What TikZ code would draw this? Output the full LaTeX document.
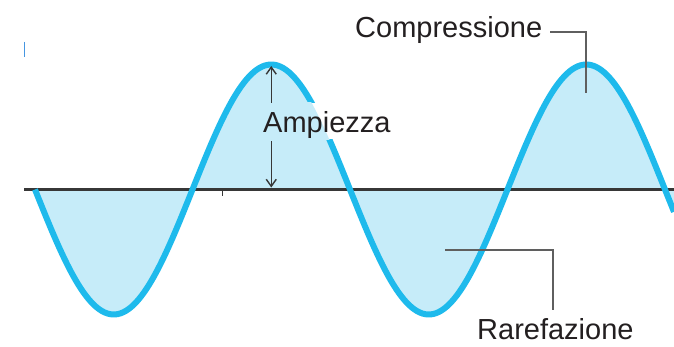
\documentclass[tikz,border=0pt]{standalone}
\usepackage{fontspec}
\setmainfont{Liberation Sans}
\usetikzlibrary{arrows.meta}
\definecolor{wavestroke}{RGB}{30,186,236}
\definecolor{wavefill}{RGB}{198,236,249}
\definecolor{axisgrey}{RGB}{55,55,55}
\definecolor{leadgrey}{RGB}{95,95,95}
\definecolor{txt}{RGB}{35,31,32}
\definecolor{stray}{RGB}{70,150,225}
\tikzset{
  lbl/.style={anchor=base west, inner sep=0pt, text=txt, font=\fontsize{29}{33}\selectfont},
  leader/.style={draw=leadgrey, line width=1.1pt},
  amparrow/.style={draw=axisgrey, line width=1.4pt, -{Straight Barb[length=7pt,width=10pt]}},
}
\newcommand{\wavey}[1]{156.5-125*sin((#1-35)*1.142857)}
\begin{document}
\begin{tikzpicture}[x=1pt,y=1pt]
\useasboundingbox (0,0) rectangle (674,346);
\fill[white] (0,0) rectangle (674,346);
% fill between wave and axis
\fill[wavefill] (35,156.5) -- plot[domain=35:674, samples=240, smooth] (\x, {\wavey{\x}}) -- (674,156.5) -- cycle;
% axis
\draw[axisgrey, line width=3pt] (24,156.5) -- (674,156.5);
\draw[axisgrey, line width=1pt] (222,156) -- (222,150);
% wave
\draw[wavestroke, line width=6pt] plot[domain=35:674, samples=240, smooth] (\x, {\wavey{\x}});
% knockout of the stroke behind the label
\begin{scope}
  \clip (300,207) rectangle (345,243);
  \fill[white] (300,207) rectangle (345,243);
  \fill[wavefill] (240,156.5) -- plot[domain=240:360, samples=80, smooth] (\x, {\wavey{\x}}) -- cycle;
\end{scope}
% stray mark
\draw[stray, line width=1pt] (24.3,304) -- (24.3,289);
% labels
\node[lbl] (amp) at (263,214) {Ampiezza};
\node[lbl] (comp) at (355,308) {Compressione};
\node[lbl] (raref) at (477,6.5) {Rarefazione};
% amplitude arrows
\coordinate (apk) at (271.25,280);
\coordinate (abase) at (271.25,158.5);
\path (apk |- amp.north) coordinate (atop);
\path (apk |- amp.south) coordinate (abot);
\draw[amparrow] ([yshift=8pt]atop) -- (apk);
\draw[amparrow] ([yshift=-3pt]abot) -- (abase);
% leaders
\coordinate (cpk) at (586,253);
\draw[leader] ([xshift=8pt,yshift=6pt]comp.base east) -| (cpk);
\coordinate (rfk) at (445,96);
\coordinate (rfe) at (553,36);
\draw[leader] (rfk) -| (rfe);
\end{tikzpicture}
\end{document}
